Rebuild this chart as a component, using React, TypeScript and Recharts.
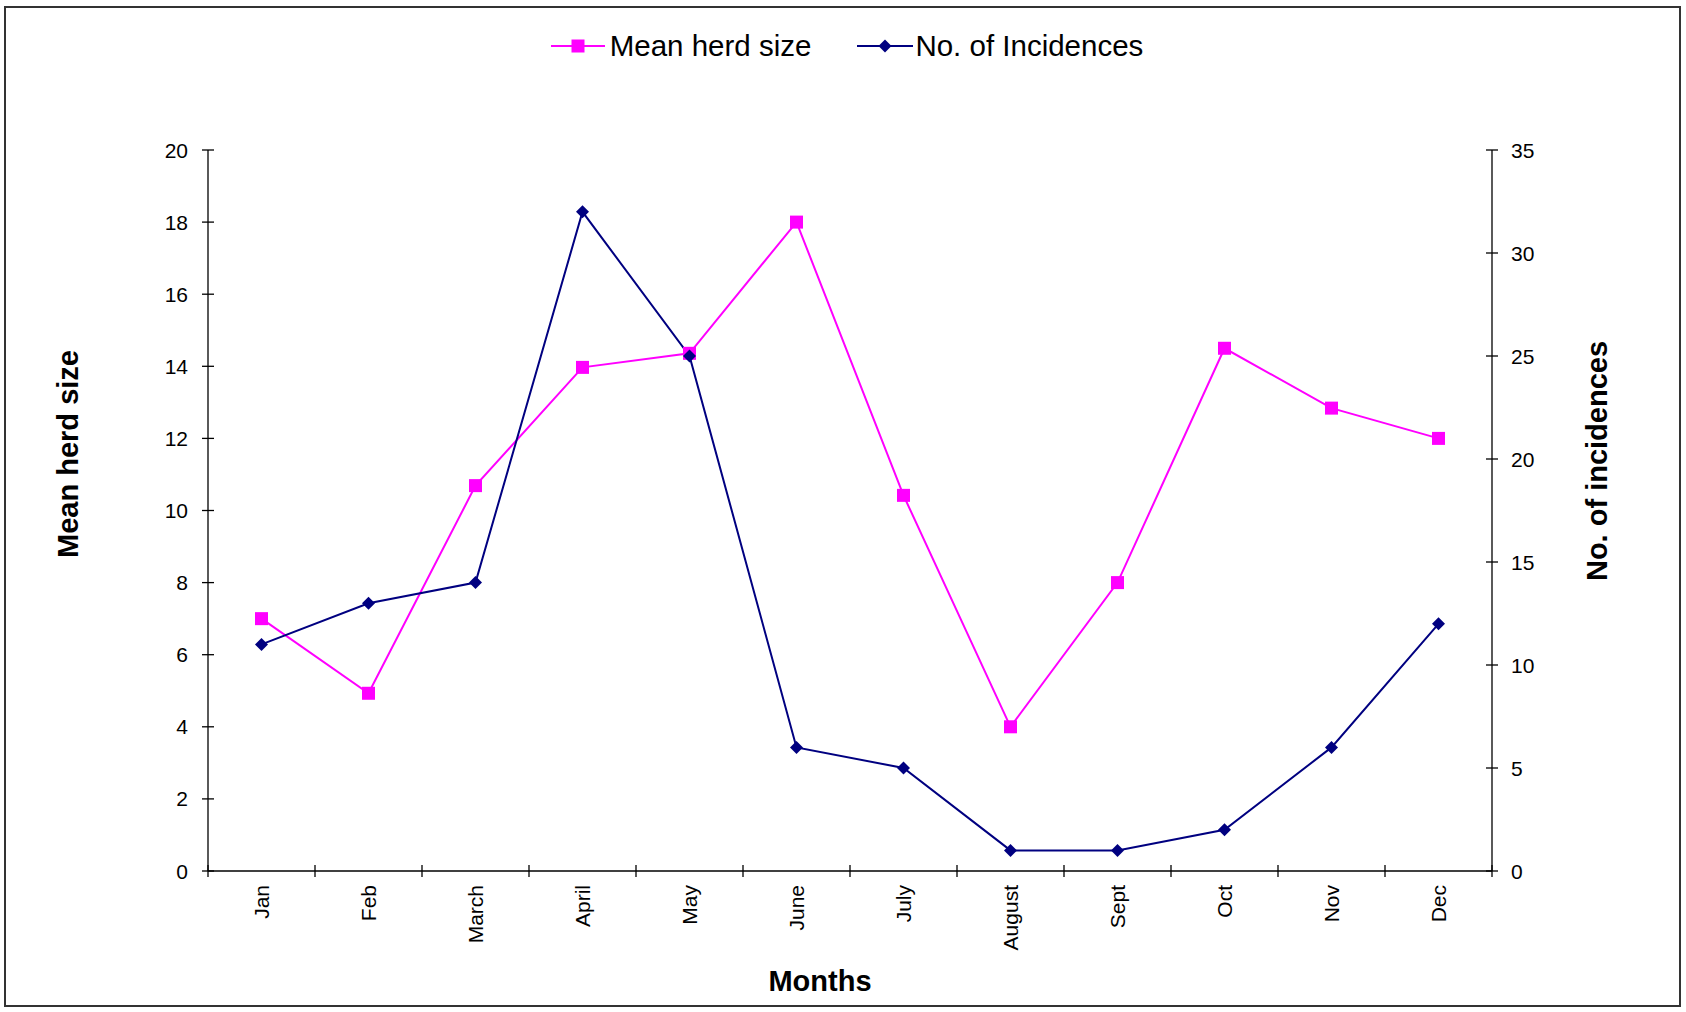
import React from 'react';
import { LineChart, Line, XAxis, YAxis, Legend, Label } from 'recharts';

const months = ['Jan', 'Feb', 'March', 'April', 'May', 'June', 'July', 'August', 'Sept', 'Oct', 'Nov', 'Dec'];
const meanHerdSize = [7, 4.93, 10.69, 13.97, 14.36, 18, 10.42, 4, 8, 14.5, 12.84, 12];
const incidences = [11, 13, 14, 32, 25, 6, 5, 1, 1, 2, 6, 12];
const leftTicks = [0, 2, 4, 6, 8, 10, 12, 14, 16, 18, 20];
const rightTicks = [0, 5, 10, 15, 20, 25, 30, 35];

const data = months.map((m, i) => ({ month: m, herd: meanHerdSize[i], inc: incidences[i] }));

const W = 1686;
const H = 1012;
const MARGIN = { top: 150, right: 134, bottom: 61, left: 148 };
const YW = 60;
const PLOT_W = W - MARGIN.left - MARGIN.right - 2 * YW;
const BW = PLOT_W / months.length;
const FONT = '"Liberation Sans", Arial, Helvetica, sans-serif';
const PINK = '#FF00FF';
const NAVY = '#000080';

const LeftTick = (props: any) => {
  const { x, y, payload } = props;
  return (
    <g>
      <line x1={x + 14} x2={x + 26} y1={y} y2={y} stroke="#000" strokeWidth={1.3} />
      <text x={x} y={y} textAnchor="end" dominantBaseline="central" fontSize={21} fontFamily={FONT} fill="#000">
        {payload.value}
      </text>
    </g>
  );
};

const RightTick = (props: any) => {
  const { x, y, payload } = props;
  return (
    <g>
      <line x1={x - 25} x2={x - 13} y1={y} y2={y} stroke="#000" strokeWidth={1.3} />
      <text x={x} y={y} textAnchor="start" dominantBaseline="central" fontSize={21} fontFamily={FONT} fill="#000">
        {payload.value}
      </text>
    </g>
  );
};

const MonthTick = (props: any) => {
  const { x, y, payload, index } = props;
  const last = index === months.length - 1;
  return (
    <g>
      <line x1={x - BW / 2} x2={x - BW / 2} y1={y - 20} y2={y - 8} stroke="#000" strokeWidth={1.3} />
      {last && <line x1={x + BW / 2} x2={x + BW / 2} y1={y - 20} y2={y - 8} stroke="#000" strokeWidth={1.3} />}
      <text
        x={x}
        y={y}
        transform={`rotate(-90 ${x} ${y})`}
        textAnchor="end"
        dominantBaseline="central"
        fontSize={21}
        fontFamily={FONT}
        fill="#000"
      >
        {payload.value}
      </text>
    </g>
  );
};

const SquareDot = (props: any) => {
  const { cx, cy, index } = props;
  if (cx == null || cy == null) return <g key={index} />;
  return <rect key={index} x={cx - 6.5} y={cy - 6.5} width={13} height={13} fill={PINK} />;
};

const DiamondDot = (props: any) => {
  const { cx, cy, index } = props;
  if (cx == null || cy == null) return <g key={index} />;
  return (
    <path key={index} d={`M${cx},${cy - 6.5} L${cx + 6.5},${cy} L${cx},${cy + 6.5} L${cx - 6.5},${cy} Z`} fill={NAVY} />
  );
};

const LegendContent = () => (
  <div style={{ display: 'flex', justifyContent: 'center', alignItems: 'center', fontFamily: FONT, fontSize: 29.5, color: '#000', lineHeight: '34px', paddingLeft: 8 }}>
    <svg width={54} height={20} style={{ marginRight: 5 }}>
      <line x1={0} x2={54} y1={10} y2={10} stroke={PINK} strokeWidth={2} />
      <rect x={20.5} y={3.5} width={13} height={13} fill={PINK} />
    </svg>
    <span>Mean herd size</span>
    <svg width={56} height={20} style={{ marginLeft: 46, marginRight: 2 }}>
      <line x1={0} x2={56} y1={10} y2={10} stroke={NAVY} strokeWidth={2} />
      <path d="M28,3.5 L34.5,10 L28,16.5 L21.5,10 Z" fill={NAVY} />
    </svg>
    <span>No. of Incidences</span>
  </div>
);

export default function App() {
  return (
    <div style={{ position: 'absolute', left: 0, top: 0, width: W, height: H, background: '#fff' }}>
      <LineChart width={W} height={H} data={data} margin={MARGIN}>
        <XAxis
          dataKey="month"
          interval={0}
          height={80}
          padding={{ left: BW / 2, right: BW / 2 }}
          tickSize={6}
          tickMargin={8}
          tickLine={false}
          axisLine={{ stroke: '#000', strokeWidth: 1.3 }}
          tick={<MonthTick />}
        >
          <Label
            content={() => (
              <text x={820} y={981} textAnchor="middle" dominantBaseline="central" fontSize={29} fontWeight="bold" fontFamily={FONT} fill="#000">
                Months
              </text>
            )}
          />
        </XAxis>
        <YAxis
          yAxisId="left"
          orientation="left"
          width={YW}
          domain={[0, 20]}
          ticks={leftTicks}
          interval={0}
          tickSize={6}
          tickMargin={14}
          tickLine={false}
          axisLine={{ stroke: '#000', strokeWidth: 1.3 }}
          tick={<LeftTick />}
        >
          <Label
            content={() => (
              <text x={68} y={454} transform="rotate(-90 68 454)" textAnchor="middle" dominantBaseline="central" fontSize={29} fontWeight="bold" fontFamily={FONT} fill="#000">
                Mean herd size
              </text>
            )}
          />
        </YAxis>
        <YAxis
          yAxisId="right"
          orientation="right"
          width={YW}
          domain={[0, 35]}
          ticks={rightTicks}
          interval={0}
          tickSize={6}
          tickMargin={13}
          tickLine={false}
          axisLine={{ stroke: '#000', strokeWidth: 1.3 }}
          tick={<RightTick />}
        >
          <Label
            content={() => (
              <text x={1597} y={461} transform="rotate(-90 1597 461)" textAnchor="middle" dominantBaseline="central" fontSize={29} fontWeight="bold" fontFamily={FONT} fill="#000">
                No. of incidences
              </text>
            )}
          />
        </YAxis>
        <Legend
          verticalAlign="middle"
          align="center"
          layout="horizontal"
          wrapperStyle={{ top: 29, left: 0, width: W }}
          content={<LegendContent />}
        />
        <Line
          yAxisId="left"
          type="linear"
          dataKey="herd"
          stroke={PINK}
          strokeWidth={2}
          dot={<SquareDot />}
          activeDot={false}
          isAnimationActive={false}
        />
        <Line
          yAxisId="right"
          type="linear"
          dataKey="inc"
          stroke={NAVY}
          strokeWidth={2}
          dot={<DiamondDot />}
          activeDot={false}
          isAnimationActive={false}
        />
      </LineChart>
      <div
        style={{
          position: 'absolute',
          left: 4,
          top: 6,
          width: 1677,
          height: 1001,
          border: '2px solid #333',
          boxSizing: 'border-box',
          pointerEvents: 'none',
        }}
      />
    </div>
  );
}
